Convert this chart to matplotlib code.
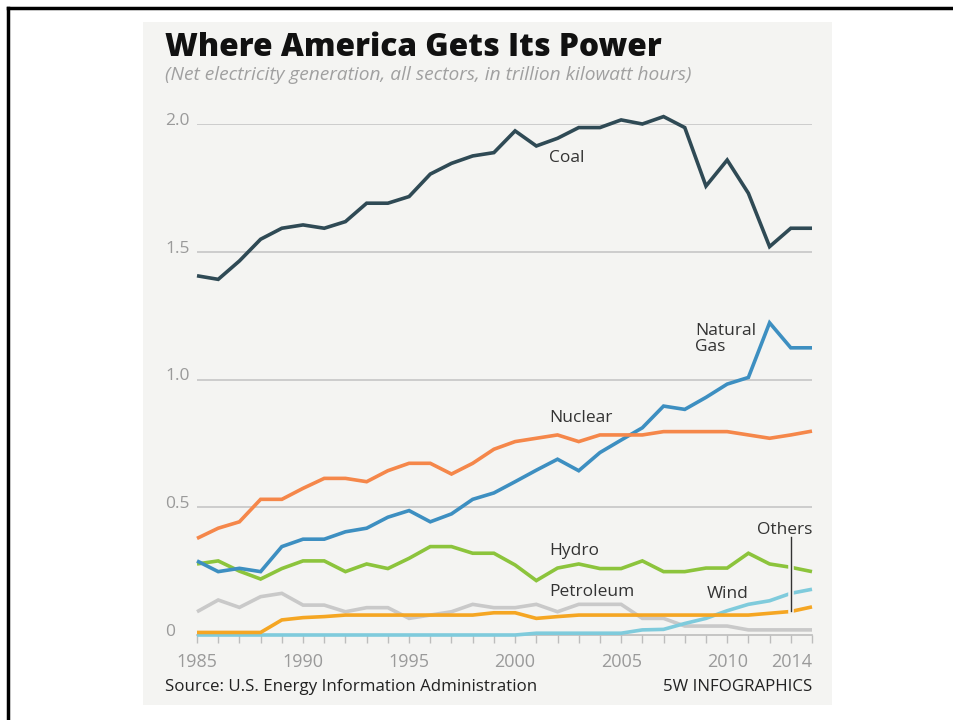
import matplotlib
matplotlib.use("Agg")
import matplotlib.pyplot as plt
import matplotlib.patheffects as pe
from matplotlib.patches import Rectangle
from matplotlib.lines import Line2D
import matplotlib.transforms as mtransforms

plt.rcParams['font.family'] = ['Open Sans', 'DejaVu Sans']

years = list(range(1985, 2015))

coal = [1.406, 1.392, 1.464, 1.549, 1.592, 1.605, 1.592, 1.618, 1.690, 1.690,
        1.716, 1.804, 1.846, 1.875, 1.888, 1.973, 1.914, 1.944, 1.986, 1.986,
        2.016, 2.000, 2.029, 1.986, 1.757, 1.859, 1.729, 1.520, 1.592, 1.592]
natural_gas = [0.290, 0.248, 0.261, 0.248, 0.346, 0.375, 0.375, 0.404, 0.418, 0.461,
               0.487, 0.443, 0.474, 0.531, 0.556, 0.600, 0.645, 0.688, 0.643, 0.714,
               0.763, 0.811, 0.896, 0.883, 0.930, 0.982, 1.008, 1.222, 1.124, 1.124]
nuclear = [0.378, 0.418, 0.443, 0.531, 0.531, 0.574, 0.613, 0.613, 0.600, 0.643,
           0.672, 0.672, 0.630, 0.672, 0.727, 0.757, 0.770, 0.783, 0.757, 0.783,
           0.783, 0.783, 0.796, 0.796, 0.796, 0.796, 0.783, 0.770, 0.783, 0.798]
hydro = [0.278, 0.290, 0.250, 0.219, 0.260, 0.290, 0.290, 0.248, 0.278, 0.260,
         0.300, 0.346, 0.346, 0.320, 0.320, 0.274, 0.213, 0.262, 0.278, 0.260,
         0.260, 0.290, 0.248, 0.248, 0.262, 0.262, 0.320, 0.278, 0.265, 0.248]
petroleum = [0.091, 0.137, 0.108, 0.150, 0.163, 0.117, 0.117, 0.091, 0.107, 0.107,
             0.065, 0.078, 0.091, 0.120, 0.107, 0.107, 0.120, 0.091, 0.120, 0.120,
             0.120, 0.065, 0.065, 0.035, 0.035, 0.035, 0.020, 0.020, 0.020, 0.020]
others = [0.010, 0.010, 0.010, 0.010, 0.059, 0.068, 0.072, 0.078, 0.078, 0.078,
          0.078, 0.078, 0.078, 0.078, 0.087, 0.087, 0.065, 0.072, 0.078, 0.078,
          0.078, 0.078, 0.078, 0.078, 0.078, 0.078, 0.078, 0.085, 0.092, 0.110]
wind = [0.0, 0.0, 0.0, 0.0, 0.0, 0.0, 0.0, 0.0, 0.0, 0.0,
        0.0, 0.0, 0.0, 0.0, 0.0, 0.0, 0.007, 0.007, 0.007, 0.007,
        0.007, 0.020, 0.022, 0.045, 0.065, 0.095, 0.120, 0.134, 0.163, 0.179]

yticks = [0, 0.5, 1.0, 1.5, 2.0]
ytick_labels = ["0", "0.5", "1.0", "1.5", "2.0"]
xtick_years = [1985, 1990, 1995, 2000, 2005, 2010, 2014]

W, H = 954, 720
fig = plt.figure(figsize=(W / 100, H / 100), dpi=100)
fig.patch.set_facecolor("white")

def fx(px):
    return px / W

def fy(py):
    return 1 - py / H

bg = "#f4f4f2"
# inner panel
fig.patches.append(Rectangle((fx(143), fy(705)), fx(832) - fx(143), fy(22) - fy(705),
                             transform=fig.transFigure, facecolor=bg, edgecolor="none", zorder=-10))
# frame lines
fig.lines.append(Line2D([fx(8), 1.0], [fy(8), fy(8)], transform=fig.transFigure, color="black", lw=2.5, zorder=-5))
fig.lines.append(Line2D([fx(8), fx(8)], [fy(8), 0.0], transform=fig.transFigure, color="black", lw=2.5, zorder=-5))

# axes: x 1985 at px197, 2014 at px812; y 0 at px635, 2.0 at px124
ax = fig.add_axes([fx(197), fy(635), fx(812) - fx(197), fy(124) - fy(635)])
ax.set_zorder(5)
ax.set_facecolor("none")
ax.set_xlim(1985, 2014)
ax.set_ylim(0, 2.0)
for s in ["top", "right", "left"]:
    ax.spines[s].set_visible(False)
ax.spines["bottom"].set_color("#bdbdbd")
ax.spines["bottom"].set_linewidth(1.2)

for v in yticks[1:]:
    ax.axhline(v, color="#c6c6c6", lw=1.2, zorder=1)

ax.set_yticks([])
ax.set_xticks(years)
ax.set_xticklabels([str(y) if y in xtick_years else "" for y in years])
ax.tick_params(axis="x", length=6, width=1.0, color="#bdbdbd", labelcolor="#9a9a9a",
               labelsize=13, pad=7)
for t, y in zip(ax.get_xticklabels(), years):
    if y == 2014:
        t.set_horizontalalignment("right")
        t.set_x(2014)

trans = mtransforms.blended_transform_factory(fig.transFigure, ax.transData)
for v, lab in zip(yticks, ytick_labels):
    ax.text(fx(165), v + 0.012, lab, transform=trans, ha="left", va="center",
            fontsize=12.5, color="#9a9a9a")

lw = 2.6
series = [
    (petroleum, "#c9c9c9"),
    (wind, "#7fcbdc"),
    (others, "#f5a623"),
    (hydro, "#8cc43c"),
    (natural_gas, "#3d8fc1"),
    (nuclear, "#f5874a"),
    (coal, "#2f4a55"),
]
for z, (vals, col) in enumerate(series):
    ax.plot(years, vals, color=col, lw=lw, solid_joinstyle="miter",
            solid_capstyle="butt", clip_on=False, zorder=3 + z)

# leader line for Others
ax.plot([2013, 2013], [0.384, others[28]], color="#333333", lw=1.0, zorder=20, clip_on=False,
        path_effects=[pe.Stroke(linewidth=4, foreground=bg), pe.Normal()])

lab_kw = dict(fontsize=12.5, color="#333333", zorder=25)
ax.text(2001.6, 1.867, "Coal", ha="left", va="center", **lab_kw)
ax.text(2008.5, 1.160, "Natural\nGas", ha="left", va="center", linespacing=1.0, **lab_kw)
ax.text(2001.6, 0.849, "Nuclear", ha="left", va="center", **lab_kw)
ax.text(2001.6, 0.329, "Hydro", ha="left", va="center", **lab_kw)
ax.text(2001.6, 0.168, "Petroleum", ha="left", va="center", **lab_kw)
ax.text(2009.05, 0.160, "Wind", ha="left", va="center", **lab_kw)
ax.text(2014.0, 0.411, "Others", ha="right", va="center", **lab_kw)

fig.text(fx(165), fy(56), "Where America Gets Its Power", ha="left", va="baseline",
         fontsize=22.8, fontweight="heavy", color="#111111")
fig.text(fx(165), fy(75), "(Net electricity generation, all sectors, in trillion kilowatt hours)",
         ha="left", va="center", fontsize=13.8, style="italic", color="#a0a0a0")
fig.text(fx(165), fy(687), "Source: U.S. Energy Information Administration", ha="left",
         va="center", fontsize=12.2, color="#222222")
fig.text(fx(812), fy(687), "5W INFOGRAPHICS", ha="right", va="center", fontsize=12.2,
         color="#222222")

fig.savefig("out.png", dpi=100, facecolor="white")
